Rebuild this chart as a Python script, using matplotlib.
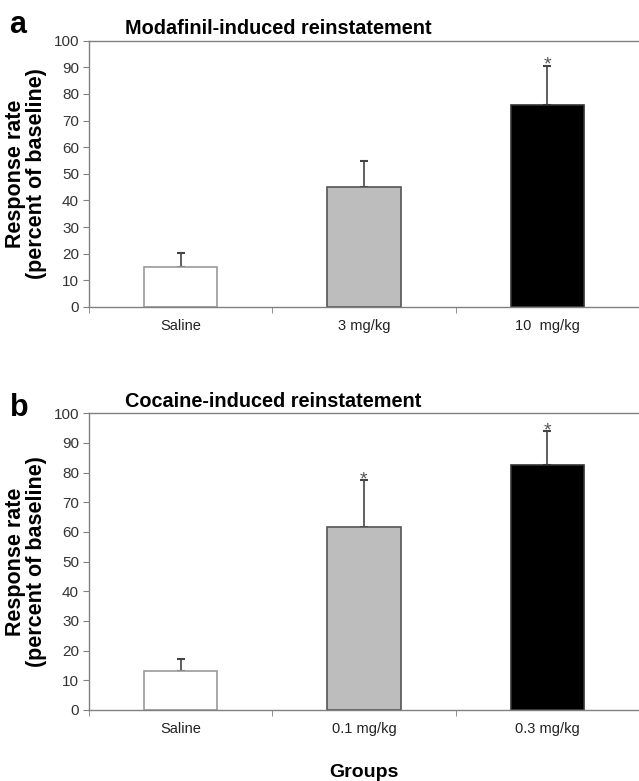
import numpy as np
import matplotlib
matplotlib.use('Agg')
import matplotlib.pyplot as plt

plt.rcParams['font.family'] = ['Liberation Sans', 'DejaVu Sans']

# panel a: modafinil
GROUPS_A = ['Saline', '3 mg/kg', '10  mg/kg']
MEAN_A = [15.0, 45.0, 76.0]
SEM_A = [5.3, 9.7, 14.5]
SIG_A = [False, False, True]

# panel b: cocaine
GROUPS_B = ['Saline', '0.1 mg/kg', '0.3 mg/kg']
MEAN_B = [13.0, 61.7, 82.5]
SEM_B = [4.0, 15.8, 11.5]
SIG_B = [False, True, True]

FACES = ['white', '#bdbdbd', 'black']
EDGES = ['#9a9a9a', '#555555', '#333333']
AXCOL = '#808080'

fig = plt.figure(figsize=(6.39, 7.81), dpi=100)
ax_a = fig.add_axes([0.139, 0.607, 0.861, 0.341])
ax_b = fig.add_axes([0.139, 0.091, 0.861, 0.380])


def draw_panel(ax, groups, means, sems, sig, title):
    x = np.arange(len(groups))
    ax.bar(x, means, width=0.40, color=FACES, edgecolor=EDGES, linewidth=1.2, zorder=2)
    # error bars only upward; lower cap hidden under the bar edge
    ax.errorbar(x, means, yerr=[np.zeros(len(sems)), sems], fmt='none',
                ecolor='#444444', elinewidth=1.2, capsize=3, capthick=1.5, zorder=1)
    for xi, m, s, flag in zip(x, means, sems, sig):
        if flag:
            ax.text(xi, m + s - 3.0, '*', ha='center', va='bottom',
                    fontsize=14, color='#555555', zorder=4)
    ax.set_xlim(-0.5, 2.5)
    ax.set_ylim(0, 100)
    ax.set_yticks(np.arange(0, 101, 10))
    ax.set_xticks(x)
    ax.set_xticklabels(groups)
    ax.set_xticks(np.arange(-0.5, 2.6, 1.0), minor=True)
    ax.tick_params(axis='x', which='major', length=0, pad=9, labelsize=10.5, labelcolor='#222222')
    ax.tick_params(axis='x', which='minor', length=4, direction='out', color=AXCOL)
    ax.tick_params(axis='y', length=4, direction='out', color=AXCOL, labelsize=11,
                   labelcolor='#333333', pad=3)
    for side in ['left', 'bottom', 'top']:
        ax.spines[side].set_color(AXCOL)
        ax.spines[side].set_linewidth(1.0)
    ax.spines['right'].set_visible(False)
    ax.set_ylabel('Response rate\n(percent of baseline)', fontsize=15.5,
                  fontweight='bold', labelpad=5, linespacing=0.95)
    ax.text(0.065, 1.008, title, transform=ax.transAxes, fontsize=14.3,
            fontweight='bold', ha='left', va='bottom')


draw_panel(ax_a, GROUPS_A, MEAN_A, SEM_A, SIG_A, 'Modafinil-induced reinstatement')
draw_panel(ax_b, GROUPS_B, MEAN_B, SEM_B, SIG_B, 'Cocaine-induced reinstatement')
ax_b.set_xlabel('Groups', fontsize=14, fontweight='bold', labelpad=20)

fig.text(0.015, 0.968, 'a', fontsize=22, fontweight='bold', va='center')
fig.text(0.015, 0.478, 'b', fontsize=22, fontweight='bold', va='center')

fig.savefig('out.png', dpi=100)
